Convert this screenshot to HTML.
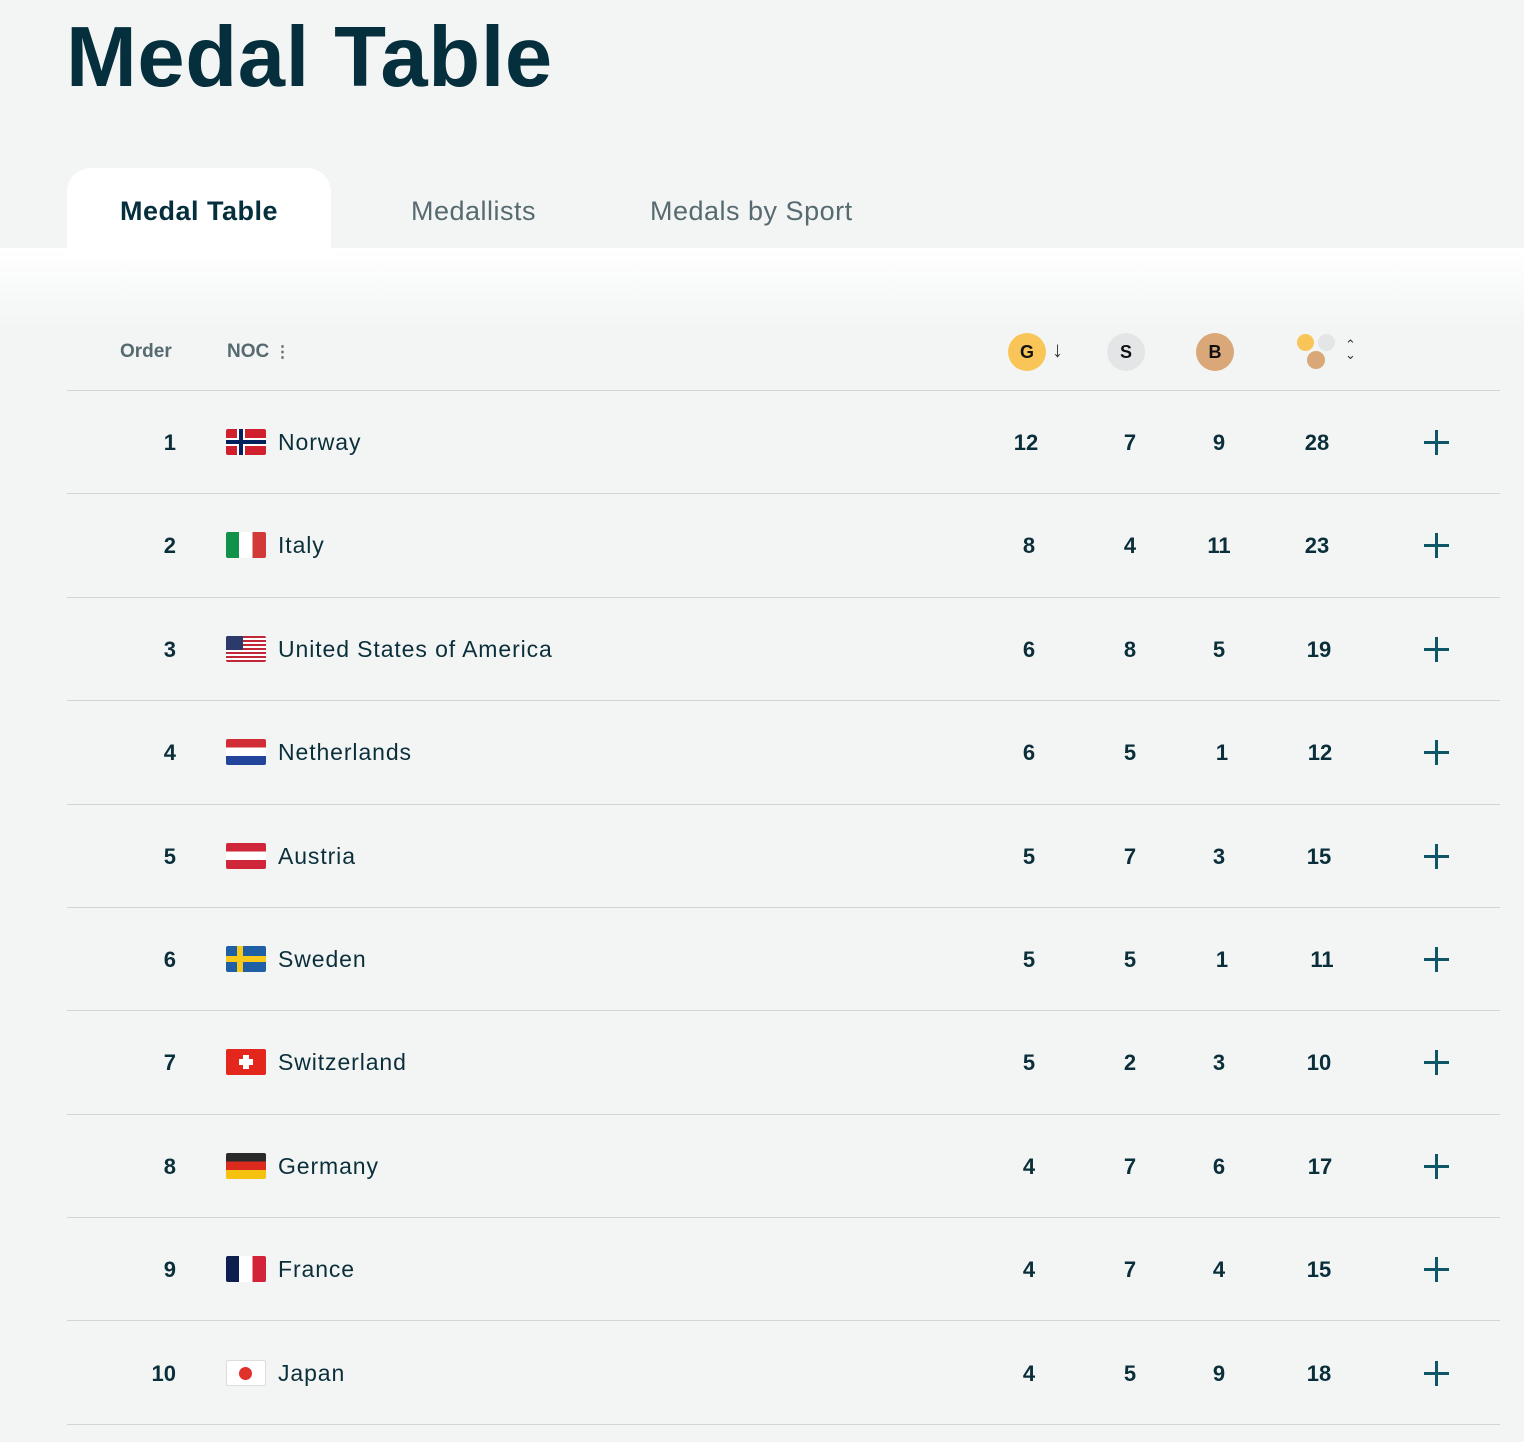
<!DOCTYPE html>
<html><head><meta charset="utf-8"><style>
*{margin:0;padding:0;box-sizing:border-box}
body{width:1524px;height:1442px;background:#f3f5f5;font-family:"Liberation Sans",sans-serif;color:#0b2f3a;position:relative;overflow:hidden}
.abs{position:absolute}
h1{position:absolute;left:66px;top:9px;font-size:85px;font-weight:bold;letter-spacing:0.6px;color:#052f3c}
.band{position:absolute;left:0;top:248px;width:1524px;height:80px;background:linear-gradient(#fff,#f3f5f5)}
.tab{position:absolute;left:67px;top:168px;width:264px;height:90px;background:#fff;border-radius:24px 24px 0 0}
.tabt{position:absolute;top:196px;font-size:27px;color:#566a70;letter-spacing:0.5px}
.hdr{position:absolute;top:341px;font-size:19px;font-weight:bold;color:#566a70}
.line{position:absolute;left:67px;width:1433px;height:1px;background:#cfd6d8}
.c{position:absolute;width:30px;height:30px;border-radius:50%;text-align:center;line-height:30px;font-size:18px;font-weight:bold;color:#111}
.row{position:absolute;left:0;width:1524px;height:40px}
.row .o{position:absolute;right:1348px;top:8px;font-size:22px;font-weight:bold}
.row .f{position:absolute;left:226px;top:7px;width:40px;height:26px;overflow:hidden;border-radius:2px}
.row .n{position:absolute;left:278px;top:7px;font-size:23px;letter-spacing:0.9px}
.row .v{position:absolute;top:8px;font-size:22px;font-weight:bold;width:60px;text-align:center}
.plus{position:absolute;left:1424px;top:8px;width:25px;height:25px}
.plus:before{content:"";position:absolute;left:11px;top:0;width:3px;height:25px;background:#0e5566}
.plus:after{content:"";position:absolute;left:0;top:11px;width:25px;height:3px;background:#0e5566}
</style></head><body>
<h1>Medal Table</h1>
<div class="band"></div>
<div class="tab"></div>
<div class="tabt" style="left:120px;color:#052f3c;font-weight:bold;">Medal Table</div>
<div class="tabt" style="left:411px">Medallists</div>
<div class="tabt" style="left:650px">Medals by Sport</div>
<div class="hdr" style="left:120px">Order</div>
<div class="hdr" style="left:227px">NOC <span style="font-size:16px">⋮</span></div>
<div class="c" style="left:1008px;top:333px;width:38px;height:38px;line-height:38px;background:#f9c558">G</div>
<div class="abs" style="left:1052px;top:337px;font-size:22px;color:#333">↓</div>
<div class="c" style="left:1107px;top:333px;width:38px;height:38px;line-height:38px;background:#e4e5e7">S</div>
<div class="c" style="left:1196px;top:333px;width:38px;height:38px;line-height:38px;background:#daa878">B</div>
<div class="c" style="left:1297px;top:334px;width:17px;height:17px;background:#f9c558"></div>
<div class="c" style="left:1318px;top:334px;width:17px;height:17px;background:#e4e5e7"></div>
<div class="c" style="left:1307px;top:351px;width:18px;height:18px;background:#daa878"></div>
<div class="abs" style="left:1345px;top:340px;font-size:13px;line-height:10px;color:#333">⌃<br>⌄</div>
<div class="line" style="top:390px"></div>
<div class="row" style="top:422px"><div class="o">1</div><div class="f" style="background:#d0202e"><div class="abs" style="left:11px;top:0;width:8px;height:26px;background:#fff"></div><div class="abs" style="left:0;top:9px;width:40px;height:8px;background:#fff"></div><div class="abs" style="left:13px;top:0;width:4px;height:26px;background:#00205b"></div><div class="abs" style="left:0;top:11px;width:40px;height:4px;background:#00205b"></div></div><div class="n">Norway</div><div class="v" style="left:996px">12</div><div class="v" style="left:1100px">7</div><div class="v" style="left:1189px">9</div><div class="v" style="left:1287px">28</div><div class="plus"></div></div>
<div class="line" style="top:493px"></div>
<div class="row" style="top:525px"><div class="o">2</div><div class="f" style="background:linear-gradient(90deg,#11924a 33%,#fff 33% 66%,#d23a3a 66%)"></div><div class="n">Italy</div><div class="v" style="left:999px">8</div><div class="v" style="left:1100px">4</div><div class="v" style="left:1189px">11</div><div class="v" style="left:1287px">23</div><div class="plus"></div></div>
<div class="line" style="top:597px"></div>
<div class="row" style="top:629px"><div class="o">3</div><div class="f" style="background:repeating-linear-gradient(#c0283a 0 2px,#fff 2px 4px)"><div class="abs" style="left:0;top:0;width:17px;height:14px;background:#2b3a6b"></div></div><div class="n">United States of America</div><div class="v" style="left:999px">6</div><div class="v" style="left:1100px">8</div><div class="v" style="left:1189px">5</div><div class="v" style="left:1289px">19</div><div class="plus"></div></div>
<div class="line" style="top:700px"></div>
<div class="row" style="top:732px"><div class="o">4</div><div class="f" style="background:linear-gradient(#d02d36 33%,#fff 33% 66%,#22449a 66%)"></div><div class="n">Netherlands</div><div class="v" style="left:999px">6</div><div class="v" style="left:1100px">5</div><div class="v" style="left:1192px">1</div><div class="v" style="left:1290px">12</div><div class="plus"></div></div>
<div class="line" style="top:804px"></div>
<div class="row" style="top:836px"><div class="o">5</div><div class="f" style="background:linear-gradient(#d0263a 33%,#fff 33% 66%,#d0263a 66%)"></div><div class="n">Austria</div><div class="v" style="left:999px">5</div><div class="v" style="left:1100px">7</div><div class="v" style="left:1189px">3</div><div class="v" style="left:1289px">15</div><div class="plus"></div></div>
<div class="line" style="top:907px"></div>
<div class="row" style="top:939px"><div class="o">6</div><div class="f" style="background:#1f5fa5"><div class="abs" style="left:11px;top:0;width:6px;height:26px;background:#f8c91a"></div><div class="abs" style="left:0;top:10px;width:40px;height:6px;background:#f8c91a"></div></div><div class="n">Sweden</div><div class="v" style="left:999px">5</div><div class="v" style="left:1100px">5</div><div class="v" style="left:1192px">1</div><div class="v" style="left:1292px">11</div><div class="plus"></div></div>
<div class="line" style="top:1010px"></div>
<div class="row" style="top:1042px"><div class="o">7</div><div class="f" style="background:#e3271c"><div class="abs" style="left:17px;top:6px;width:6px;height:14px;background:#fff"></div><div class="abs" style="left:13px;top:10px;width:14px;height:6px;background:#fff"></div></div><div class="n">Switzerland</div><div class="v" style="left:999px">5</div><div class="v" style="left:1100px">2</div><div class="v" style="left:1189px">3</div><div class="v" style="left:1289px">10</div><div class="plus"></div></div>
<div class="line" style="top:1114px"></div>
<div class="row" style="top:1146px"><div class="o">8</div><div class="f" style="background:linear-gradient(#2a2a2a 33%,#dd2a1f 33% 66%,#f5c30f 66%)"></div><div class="n">Germany</div><div class="v" style="left:999px">4</div><div class="v" style="left:1100px">7</div><div class="v" style="left:1189px">6</div><div class="v" style="left:1290px">17</div><div class="plus"></div></div>
<div class="line" style="top:1217px"></div>
<div class="row" style="top:1249px"><div class="o">9</div><div class="f" style="background:linear-gradient(90deg,#0e1e4e 33%,#fff 33% 66%,#d2233a 66%)"></div><div class="n">France</div><div class="v" style="left:999px">4</div><div class="v" style="left:1100px">7</div><div class="v" style="left:1189px">4</div><div class="v" style="left:1289px">15</div><div class="plus"></div></div>
<div class="line" style="top:1320px"></div>
<div class="row" style="top:1353px"><div class="o">10</div><div class="f" style="background:#fff;border:1px solid #ddd"><div class="abs" style="left:12px;top:6px;width:13px;height:13px;border-radius:50%;background:#e0312a"></div></div><div class="n">Japan</div><div class="v" style="left:999px">4</div><div class="v" style="left:1100px">5</div><div class="v" style="left:1189px">9</div><div class="v" style="left:1289px">18</div><div class="plus"></div></div>
<div class="line" style="top:1424px"></div>
</body></html>
